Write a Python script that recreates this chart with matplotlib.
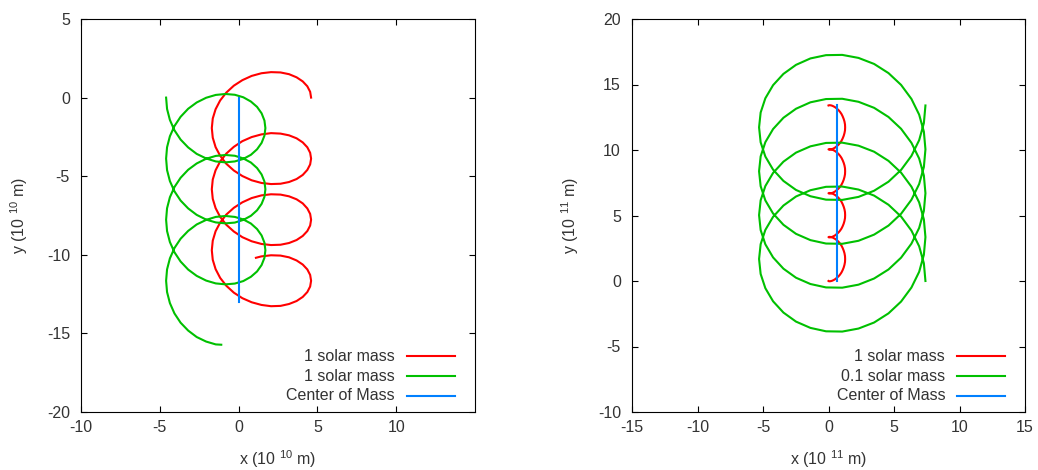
import matplotlib
matplotlib.use('Agg')
import matplotlib.pyplot as plt

plt.rcParams['font.family'] = ['Liberation Sans', 'DejaVu Sans']
plt.rcParams['mathtext.default'] = 'regular'
plt.rcParams['axes.unicode_minus'] = False

# ---- left panel: two 1 solar mass stars (units of 1e10 m) ----
left_red_x = [
    4.60, 4.54, 4.36, 4.07, 3.68, 3.20, 2.66, 2.06, 1.45, 0.83, 0.24, -0.30, -0.78, -1.17, -1.46, -1.64,
    -1.70, -1.64, -1.46, -1.17, -0.78, -0.30, 0.24, 0.83, 1.45, 2.06, 2.66, 3.20, 3.68, 4.07, 4.36, 4.54,
    4.60, 4.54, 4.36, 4.07, 3.68, 3.20, 2.66, 2.06, 1.45, 0.83, 0.24, -0.30, -0.78, -1.17, -1.46, -1.64,
    -1.70, -1.64, -1.46, -1.17, -0.78, -0.30, 0.24, 0.83, 1.45, 2.06, 2.66, 3.20, 3.68, 4.07, 4.36, 4.54,
    4.60, 4.54, 4.36, 4.07, 3.68, 3.20, 2.66, 2.06, 1.45, 0.83, 0.24, -0.30, -0.78, -1.17, -1.46, -1.64,
    -1.70, -1.64, -1.46, -1.17, -0.78, -0.30, 0.24, 0.83, 1.45, 2.06, 2.66, 3.20, 3.68, 4.07, 4.36, 4.54,
    4.60, 4.54, 4.36, 4.07, 3.68, 3.20, 2.66, 2.06, 1.45, 1.10]
left_red_y = [
    0.00, 0.37, 0.72, 1.03, 1.29, 1.49, 1.60, 1.62, 1.55, 1.38, 1.11, 0.76, 0.32, -0.18, -0.74, -1.33,
    -1.94, -2.55, -3.15, -3.70, -4.21, -4.64, -4.99, -5.26, -5.43, -5.50, -5.48, -5.37, -5.18, -4.92, -4.60, -4.25,
    -3.88, -3.51, -3.16, -2.85, -2.59, -2.40, -2.29, -2.26, -2.34, -2.51, -2.77, -3.13, -3.56, -4.06, -4.62, -5.21,
    -5.83, -6.44, -7.03, -7.59, -8.09, -8.52, -8.88, -9.14, -9.31, -9.38, -9.36, -9.25, -9.06, -8.80, -8.49, -8.14,
    -7.77, -7.40, -7.05, -6.73, -6.47, -6.28, -6.17, -6.15, -6.22, -6.39, -6.66, -7.01, -7.44, -7.95, -8.50, -9.10,
    -9.71, -10.32, -10.91, -11.47, -11.97, -12.41, -12.76, -13.02, -13.19, -13.27, -13.25, -13.13, -12.94, -12.68, -12.37, -12.02,
    -11.65, -11.28, -10.93, -10.62, -10.36, -10.16, -10.05, -10.03, -10.10, -10.19]
left_green_x = [
    -4.60, -4.54, -4.36, -4.07, -3.68, -3.20, -2.66, -2.06, -1.45, -0.83, -0.24, 0.30, 0.78, 1.17, 1.46, 1.64,
    1.70, 1.64, 1.46, 1.17, 0.78, 0.30, -0.24, -0.83, -1.45, -2.06, -2.66, -3.20, -3.68, -4.07, -4.36, -4.54,
    -4.60, -4.54, -4.36, -4.07, -3.68, -3.20, -2.66, -2.06, -1.45, -0.83, -0.24, 0.30, 0.78, 1.17, 1.46, 1.64,
    1.70, 1.64, 1.46, 1.17, 0.78, 0.30, -0.24, -0.83, -1.45, -2.06, -2.66, -3.20, -3.68, -4.07, -4.36, -4.54,
    -4.60, -4.54, -4.36, -4.07, -3.68, -3.20, -2.66, -2.06, -1.45, -0.83, -0.24, 0.30, 0.78, 1.17, 1.46, 1.64,
    1.70, 1.64, 1.46, 1.17, 0.78, 0.30, -0.24, -0.83, -1.45, -2.06, -2.66, -3.20, -3.68, -4.07, -4.36, -4.54,
    -4.60, -4.54, -4.36, -4.07, -3.68, -3.20, -2.66, -2.06, -1.45, -1.10]
left_green_y = [
    0.00, -0.72, -1.42, -2.08, -2.67, -3.17, -3.58, -3.87, -4.06, -4.12, -4.06, -3.90, -3.64, -3.29, -2.88, -2.42,
    -1.94, -1.46, -1.00, -0.59, -0.25, 0.02, 0.18, 0.23, 0.17, -0.01, -0.31, -0.71, -1.22, -1.81, -2.46, -3.16,
    -3.88, -4.61, -5.31, -5.96, -6.55, -7.05, -7.46, -7.76, -7.94, -8.00, -7.95, -7.78, -7.52, -7.17, -6.76, -6.31,
    -5.83, -5.34, -4.89, -4.48, -4.13, -3.87, -3.70, -3.65, -3.71, -3.89, -4.19, -4.59, -5.10, -5.69, -6.34, -7.04,
    -7.77, -8.49, -9.19, -9.84, -10.43, -10.94, -11.34, -11.64, -11.82, -11.88, -11.83, -11.67, -11.40, -11.06, -10.65, -10.19,
    -9.71, -9.23, -8.77, -8.36, -8.01, -7.75, -7.59, -7.53, -7.59, -7.78, -8.07, -8.48, -8.98, -9.57, -10.23, -10.93,
    -11.65, -12.37, -13.07, -13.73, -14.32, -14.82, -15.23, -15.52, -15.70, -15.72]
left_cm_x = [0.0, 0.0]
left_cm_y = [0.0, -13.0]

# ---- right panel: 1 and 0.1 solar mass (units of 1e11 m) ----
right_red_x = [
    0.00, 0.01, 0.05, 0.10, 0.18, 0.28, 0.39, 0.51, 0.63, 0.76, 0.88, 0.99, 1.08, 1.16, 1.22, 1.26,
    1.27, 1.26, 1.22, 1.16, 1.08, 0.99, 0.88, 0.76, 0.63, 0.51, 0.39, 0.28, 0.18, 0.10, 0.05, 0.01,
    0.00, 0.01, 0.05, 0.10, 0.18, 0.28, 0.39, 0.51, 0.63, 0.76, 0.88, 0.99, 1.08, 1.16, 1.22, 1.26,
    1.27, 1.26, 1.22, 1.16, 1.08, 0.99, 0.88, 0.76, 0.63, 0.51, 0.39, 0.28, 0.18, 0.10, 0.05, 0.01,
    0.00, 0.01, 0.05, 0.10, 0.18, 0.28, 0.39, 0.51, 0.63, 0.76, 0.88, 0.99, 1.08, 1.16, 1.22, 1.26,
    1.27, 1.26, 1.22, 1.16, 1.08, 0.99, 0.88, 0.76, 0.63, 0.51, 0.39, 0.28, 0.18, 0.10, 0.05, 0.01,
    0.00, 0.01, 0.05, 0.10, 0.18, 0.28, 0.39, 0.51, 0.63, 0.76, 0.88, 0.99, 1.08, 1.16, 1.22, 1.26,
    1.27, 1.26, 1.22, 1.16, 1.08, 0.99, 0.88, 0.76, 0.63, 0.51, 0.39, 0.28, 0.18, 0.10, 0.05, 0.01,
    0.00]
right_red_y = [
    0.00, -0.01, -0.02, -0.02, -0.01, 0.02, 0.07, 0.14, 0.24, 0.35, 0.49, 0.65, 0.83, 1.03, 1.24, 1.45,
    1.68, 1.90, 2.12, 2.32, 2.52, 2.70, 2.86, 3.00, 3.12, 3.21, 3.28, 3.33, 3.36, 3.37, 3.37, 3.36,
    3.35, 3.34, 3.33, 3.33, 3.34, 3.37, 3.42, 3.49, 3.59, 3.70, 3.84, 4.00, 4.18, 4.38, 4.59, 4.80,
    5.03, 5.25, 5.47, 5.67, 5.87, 6.05, 6.21, 6.35, 6.47, 6.56, 6.63, 6.68, 6.71, 6.72, 6.72, 6.71,
    6.70, 6.69, 6.68, 6.68, 6.69, 6.72, 6.77, 6.84, 6.94, 7.05, 7.19, 7.35, 7.53, 7.73, 7.94, 8.15,
    8.38, 8.60, 8.82, 9.02, 9.22, 9.40, 9.56, 9.70, 9.82, 9.91, 9.98, 10.03, 10.06, 10.07, 10.07, 10.06,
    10.05, 10.04, 10.03, 10.03, 10.04, 10.07, 10.12, 10.19, 10.29, 10.40, 10.54, 10.70, 10.88, 11.08, 11.29, 11.50,
    11.73, 11.95, 12.17, 12.37, 12.57, 12.75, 12.91, 13.05, 13.17, 13.26, 13.33, 13.38, 13.41, 13.42, 13.42, 13.41,
    13.40]
right_green_x = [
    7.40, 7.28, 6.92, 6.33, 5.54, 4.58, 3.48, 2.29, 1.05, -0.19, -1.38, -2.48, -3.44, -4.23, -4.82, -5.18,
    -5.30, -5.18, -4.82, -4.23, -3.44, -2.48, -1.38, -0.19, 1.05, 2.29, 3.48, 4.58, 5.54, 6.33, 6.92, 7.28,
    7.40, 7.28, 6.92, 6.33, 5.54, 4.58, 3.48, 2.29, 1.05, -0.19, -1.38, -2.48, -3.44, -4.23, -4.82, -5.18,
    -5.30, -5.18, -4.82, -4.23, -3.44, -2.48, -1.38, -0.19, 1.05, 2.29, 3.48, 4.58, 5.54, 6.33, 6.92, 7.28,
    7.40, 7.28, 6.92, 6.33, 5.54, 4.58, 3.48, 2.29, 1.05, -0.19, -1.38, -2.48, -3.44, -4.23, -4.82, -5.18,
    -5.30, -5.18, -4.82, -4.23, -3.44, -2.48, -1.38, -0.19, 1.05, 2.29, 3.48, 4.58, 5.54, 6.33, 6.92, 7.28,
    7.40, 7.28, 6.92, 6.33, 5.54, 4.58, 3.48, 2.29, 1.05, -0.19, -1.38, -2.48, -3.44, -4.23, -4.82, -5.18,
    -5.30, -5.18, -4.82, -4.23, -3.44, -2.48, -1.38, -0.19, 1.05, 2.29, 3.48, 4.58, 5.54, 6.33, 6.92, 7.28,
    7.40]
right_green_y = [
    0.00, 1.35, 2.65, 3.85, 4.92, 5.82, 6.52, 6.98, 7.21, 7.19, 6.93, 6.45, 5.76, 4.90, 3.90, 2.81,
    1.68, 0.54, -0.55, -1.55, -2.41, -3.10, -3.58, -3.84, -3.86, -3.63, -3.17, -2.47, -1.57, -0.50, 0.70, 2.00,
    3.35, 4.70, 6.00, 7.20, 8.27, 9.17, 9.87, 10.33, 10.56, 10.54, 10.28, 9.80, 9.11, 8.25, 7.25, 6.16,
    5.03, 3.89, 2.80, 1.80, 0.94, 0.25, -0.23, -0.49, -0.51, -0.28, 0.19, 0.88, 1.78, 2.85, 4.05, 5.35,
    6.70, 8.05, 9.35, 10.55, 11.62, 12.52, 13.22, 13.68, 13.91, 13.89, 13.64, 13.15, 12.46, 11.60, 10.60, 9.51,
    8.38, 7.24, 6.15, 5.15, 4.29, 3.60, 3.12, 2.86, 2.84, 3.07, 3.54, 4.23, 5.13, 6.20, 7.40, 8.70,
    10.05, 11.40, 12.70, 13.90, 14.97, 15.87, 16.57, 17.03, 17.26, 17.24, 16.99, 16.50, 15.81, 14.95, 13.95, 12.86,
    11.73, 10.59, 9.50, 8.50, 7.64, 6.95, 6.47, 6.21, 6.19, 6.42, 6.89, 7.58, 8.48, 9.55, 10.75, 12.05,
    13.40]
right_cm_x = [0.66, 0.66]
right_cm_y = [0.0, 13.4]

left_labels = ['1 solar mass', '1 solar mass', 'Center of Mass']
right_labels = ['1 solar mass', '0.1 solar mass', 'Center of Mass']
colors = ['#ff0000', '#00c000', '#0080ff']
text_color = '#333333'


def style_axes(ax, xlim, ylim, xticks, yticks, exp):
    ax.set_xlim(xlim)
    ax.set_ylim(ylim)
    ax.set_xticks(xticks)
    ax.set_yticks(yticks)
    ax.tick_params(direction='in', top=True, right=True, length=4.5, width=0.8,
                   labelsize=11.5, colors='#000000', labelcolor=text_color)
    ax.tick_params(axis='x', pad=6)
    ax.tick_params(axis='y', pad=8)
    for s in ax.spines.values():
        s.set_linewidth(0.8)
        s.set_color('#000000')
    ax.set_xlabel('x (10 $^{%d}$ m)' % exp, fontsize=11.5, color=text_color)
    ax.set_ylabel('y (10 $^{%d}$ m)' % exp, fontsize=11.5, color=text_color)
    ax.xaxis.label.set_va('center')
    ax.yaxis.label.set_va('center')
    ax.xaxis.set_label_coords(0.5, -0.12)
    ax.yaxis.set_label_coords(-0.157, 0.5)


def key(ax, labels):
    rows = [0.142, 0.091, 0.041]
    for lab, c, yy in zip(labels, colors, rows):
        ax.text(0.797, yy, lab, transform=ax.transAxes, ha='right', va='center',
                fontsize=11.5, color=text_color)
        ax.plot([0.828, 0.948], [yy, yy], transform=ax.transAxes, color=c, lw=1.5)


fig = plt.figure(figsize=(10.38, 4.70), dpi=100)
ax1 = fig.add_axes([81 / 1038, 58 / 470, 394 / 1038, 393 / 470])
ax2 = fig.add_axes([632 / 1038, 58 / 470, 393 / 1038, 393 / 470])

ax1.plot(left_red_x, left_red_y, color=colors[0], lw=1.5)
ax1.plot(left_green_x, left_green_y, color=colors[1], lw=1.5)
ax1.plot(left_cm_x, left_cm_y, color=colors[2], lw=1.5)
style_axes(ax1, (-10, 15), (-20, 5), [-10, -5, 0, 5, 10], [-20, -15, -10, -5, 0, 5], 10)
key(ax1, left_labels)

ax2.plot(right_red_x, right_red_y, color=colors[0], lw=1.5)
ax2.plot(right_green_x, right_green_y, color=colors[1], lw=1.5)
ax2.plot(right_cm_x, right_cm_y, color=colors[2], lw=1.5)
style_axes(ax2, (-15, 15), (-10, 20), [-15, -10, -5, 0, 5, 10, 15], [-10, -5, 0, 5, 10, 15, 20], 11)
key(ax2, right_labels)

fig.savefig('out.png', dpi=100)
